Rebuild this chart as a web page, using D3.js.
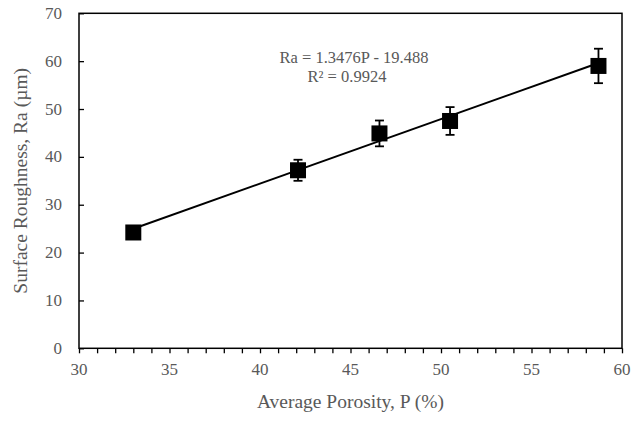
<!DOCTYPE html>
<html>
<head>
<meta charset="utf-8">
<script src="https://cdn.jsdelivr.net/npm/d3@7"></script>
<style>
body{margin:0;background:#fff;}
text{font-family:"Liberation Serif","Times New Roman",serif;fill:#595959;}
</style>
</head>
<body>
<div id="chart"></div>
<script>
// measured points
let porosity = [33.0, 42.1, 46.6, 50.5, 58.7],
roughness = [24.2, 37.2, 44.9, 47.5, 59.0],
err = [0.8, 2.2, 2.7, 2.9, 3.6];

// trendline from the fit
let slope = 1.3476,
intercept = -19.488;

let xTicks = [30, 35, 40, 45, 50, 55, 60],
yTicks = [0, 10, 20, 30, 40, 50, 60, 70];

let W = 631, H = 423,
margin = {left:79, top:13.3, right:9, bottom:74.7};

let svg = d3.select('#chart').append('svg').attr('width', W).attr('height', H);

let x = d3.scaleLinear().domain([30, 60]).range([margin.left, W - margin.right]),
y = d3.scaleLinear().domain([0, 70]).range([H - margin.bottom, margin.top]);

//frame
svg.append('rect')
.attr('x', x(30))
.attr('y', y(70))
.attr('width', x(60) - x(30))
.attr('height', y(0) - y(70))
.style('fill', 'none')
.style('stroke', 'black')
.style('stroke-width', 1.5);

//x axis, minor ticks every unit
let xAxis = svg.append('g').attr('transform', 'translate(0,' + y(0) + ')')
.call(d3.axisBottom(x).tickValues(d3.range(30, 61, 1)).tickSize(5).tickFormat(''));
xAxis.select('.domain').remove();
xAxis.selectAll('line').style('stroke', 'black').style('stroke-width', 1.3);

svg.selectAll('.xlab').data(xTicks).enter().append('text')
.attr('x', d=>x(d))
.attr('y', y(0) + 27)
.attr('text-anchor', 'middle')
.style('font-size', '17px')
.text(d=>d);

//y axis, ticks inside
let yAxis = svg.append('g').attr('transform', 'translate(' + x(30) + ',0)')
.call(d3.axisRight(y).tickValues(yTicks).tickSize(5).tickFormat(''));
yAxis.select('.domain').remove();
yAxis.selectAll('line').style('stroke', 'black').style('stroke-width', 1.3);

svg.selectAll('.ylab').data(yTicks).enter().append('text')
.attr('x', x(30) - 17)
.attr('y', d=>y(d))
.attr('text-anchor', 'end')
.attr('dominant-baseline', 'central')
.style('font-size', '17px')
.text(d=>d);

//axis titles
svg.append('text')
.attr('x', (x(30) + x(60)) / 2)
.attr('y', H - 15)
.attr('text-anchor', 'middle')
.style('font-size', '19.5px')
.text('Average Porosity, P (%)');

svg.append('text')
.attr('transform', 'translate(20,' + (y(0) + y(70)) / 2 + ') rotate(-90)')
.attr('text-anchor', 'middle')
.attr('dominant-baseline', 'central')
.style('font-size', '19.5px')
.text('Surface Roughness, Ra  (\u00b5m)');

//trendline
let px = d3.extent(porosity);
svg.append('line')
.attr('x1', x(px[0]))
.attr('y1', y(slope * px[0] + intercept))
.attr('x2', x(px[1]))
.attr('y2', y(slope * px[1] + intercept))
.style('stroke', 'black')
.style('stroke-width', 2);

//error bars
let pts = porosity.map((d, i)=>({p:d, r:roughness[i], e:err[i]}));
let eb = svg.append('g').selectAll('g').data(pts).enter().append('g');
eb.append('line')
.attr('x1', d=>x(d.p)).attr('x2', d=>x(d.p))
.attr('y1', d=>y(d.r + d.e)).attr('y2', d=>y(d.r - d.e));
eb.append('line')
.attr('x1', d=>x(d.p) - 4.5).attr('x2', d=>x(d.p) + 4.5)
.attr('y1', d=>y(d.r + d.e)).attr('y2', d=>y(d.r + d.e));
eb.append('line')
.attr('x1', d=>x(d.p) - 4.5).attr('x2', d=>x(d.p) + 4.5)
.attr('y1', d=>y(d.r - d.e)).attr('y2', d=>y(d.r - d.e));
eb.selectAll('line').style('stroke', 'black').style('stroke-width', 1.8);

//markers
let ms = 16;
svg.selectAll('.marker').data(pts).enter().append('rect')
.attr('x', d=>x(d.p) - ms / 2)
.attr('y', d=>y(d.r) - ms / 2)
.attr('width', ms)
.attr('height', ms)
.style('fill', 'black');

//equation
svg.append('text')
.attr('x', 354)
.attr('y', 63)
.attr('text-anchor', 'middle')
.style('font-size', '16.5px')
.text('Ra = 1.3476P - 19.488');
svg.append('text')
.attr('x', 347)
.attr('y', 82)
.attr('text-anchor', 'middle')
.style('font-size', '16.5px')
.text('R\u00b2 = 0.9924');
</script>
</body>
</html>
